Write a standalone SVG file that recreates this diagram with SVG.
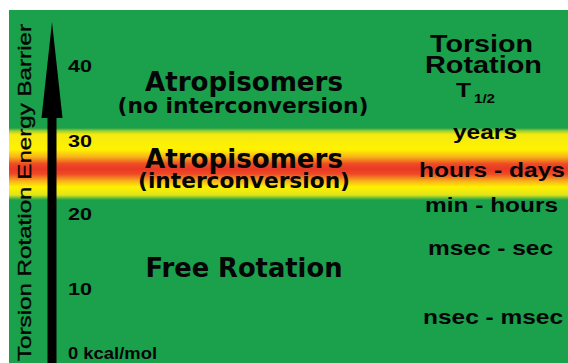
<svg xmlns="http://www.w3.org/2000/svg" width="568" height="363" viewBox="0 0 568 363">
<defs>
<linearGradient id="band" x1="0" y1="0" x2="0" y2="1">
<stop offset="0" stop-color="#1ba04c"/>
<stop offset="0.04" stop-color="#9ccf30"/>
<stop offset="0.09" stop-color="#f4ea10"/>
<stop offset="0.30" stop-color="#fff200"/>
<stop offset="0.40" stop-color="#f8b41a"/>
<stop offset="0.50" stop-color="#ee4a25"/>
<stop offset="0.57" stop-color="#ea3825"/>
<stop offset="0.64" stop-color="#ee4a25"/>
<stop offset="0.74" stop-color="#f8b41a"/>
<stop offset="0.82" stop-color="#fff200"/>
<stop offset="0.93" stop-color="#e0e41a"/>
<stop offset="1" stop-color="#1ba04c"/>
</linearGradient>
<style>
.c{font-family:"DejaVu Sans",Verdana,sans-serif;font-weight:bold;fill:#050505;text-anchor:middle}
.r{font-family:"Liberation Sans",Arial,sans-serif;font-weight:bold;fill:#050505}
.n{font-family:"Liberation Sans",Arial,sans-serif;font-weight:bold;font-size:17px;fill:#050505}
.v{font-family:"Liberation Sans",Arial,sans-serif;font-size:18.5px;fill:#050505;stroke:#050505;stroke-width:0.35}
</style>
</defs>
<rect width="568" height="363" fill="#ffffff"/>
<g id="background">
<rect x="9" y="10" width="559" height="353" fill="#1ba04c"/>
<rect x="9" y="128" width="559" height="72" fill="url(#band)"/>
</g>
<g id="axis">
<rect x="47.5" y="110" width="9" height="253" fill="#000"/>
<polygon points="52,22 62.5,118 41.5,118" fill="#000"/>
<text class="v" transform="translate(31,361) rotate(-90)" textLength="337" lengthAdjust="spacingAndGlyphs">Torsion Rotation Energy Barrier</text>
</g>
<g id="ticks">
<text class="n" x="68" y="72" textLength="24" lengthAdjust="spacingAndGlyphs">40</text>
<text class="n" x="68" y="147" textLength="24" lengthAdjust="spacingAndGlyphs">30</text>
<text class="n" x="68" y="220" textLength="24" lengthAdjust="spacingAndGlyphs">20</text>
<text class="n" x="68" y="295" textLength="24" lengthAdjust="spacingAndGlyphs">10</text>
<text class="n" x="68" y="359" textLength="89" lengthAdjust="spacingAndGlyphs">0 kcal/mol</text>
</g>
<g id="region-high">
<text class="c" x="244" y="91" font-size="26" textLength="198" lengthAdjust="spacingAndGlyphs">Atropisomers</text>
<text class="c" x="243" y="113" font-size="21.5" textLength="251" lengthAdjust="spacingAndGlyphs">(no interconversion)</text>
</g>
<g id="region-mid">
<text class="c" x="244" y="168" font-size="26" textLength="198" lengthAdjust="spacingAndGlyphs">Atropisomers</text>
<text class="c" x="244" y="188" font-size="21.5" textLength="212" lengthAdjust="spacingAndGlyphs">(interconversion)</text>
</g>
<g id="region-low">
<text class="c" x="244" y="277" font-size="26" textLength="197" lengthAdjust="spacingAndGlyphs">Free Rotation</text>
</g>
<g id="halflife">
<text class="r" x="430" y="52" font-size="23" textLength="103" lengthAdjust="spacingAndGlyphs">Torsion</text>
<text class="r" x="425" y="73" font-size="23" textLength="117" lengthAdjust="spacingAndGlyphs">Rotation</text>
<text class="r" x="456" y="97" font-size="21" textLength="15" lengthAdjust="spacingAndGlyphs">T</text>
<text class="r" x="474" y="103" font-size="13" textLength="21" lengthAdjust="spacingAndGlyphs">1/2</text>
<text class="r" x="453" y="139" font-size="21" textLength="64" lengthAdjust="spacingAndGlyphs">years</text>
<text class="r" x="419" y="177" font-size="21" textLength="146" lengthAdjust="spacingAndGlyphs">hours - days</text>
<text class="r" x="425" y="212" font-size="21" textLength="133" lengthAdjust="spacingAndGlyphs">min - hours</text>
<text class="r" x="428" y="255" font-size="21" textLength="125" lengthAdjust="spacingAndGlyphs">msec - sec</text>
<text class="r" x="423" y="324" font-size="21" textLength="140" lengthAdjust="spacingAndGlyphs">nsec - msec</text>
</g>
</svg>
